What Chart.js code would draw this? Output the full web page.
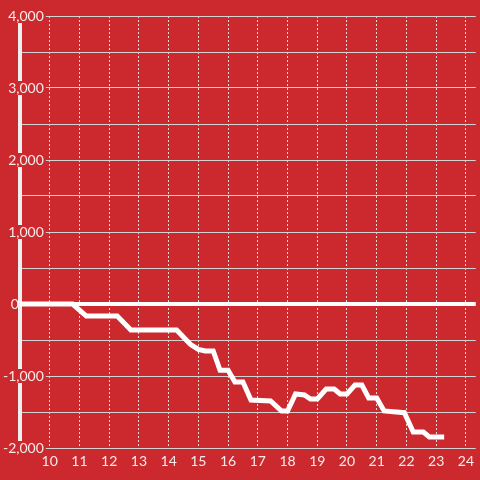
<!DOCTYPE html>
<html>
<head>
<meta charset="utf-8">
<script src="https://cdn.jsdelivr.net/npm/chart.js@4/dist/chart.umd.min.js"></script>
<style>
  html, body { margin: 0; padding: 0; background: #cc292e; }
  #wrap { width: 480px; height: 480px; }
</style>
</head>
<body>
<div id="wrap"><canvas id="chart"></canvas></div>
<script>
// Running balance through the day (hour of day → value)
const hours = [9, 10.77, 11.23, 12.27, 12.73, 14.27, 14.73, 15.0, 15.23, 15.5, 15.73, 16.0,
  16.23, 16.5, 16.77, 17.43, 17.8, 18.0, 18.27, 18.57, 18.77, 19.0, 19.3, 19.57,
  19.77, 20.0, 20.27, 20.5, 20.73, 21.0, 21.25, 21.93, 22.23, 22.57, 22.77, 23.27];
const balance = [0, 0, -167, -167, -361, -361, -560, -630, -653, -653, -920, -920,
  -1083, -1083, -1333, -1347, -1486, -1486, -1250, -1264, -1319, -1319, -1181, -1181,
  -1250, -1250, -1125, -1125, -1306, -1306, -1486, -1510, -1778, -1778, -1847, -1847];

const xMin = 9, xMax = 24.333;
const yMin = -2000, yMax = 4000;

const BG = "#cc292e";
const LABEL = "rgba(255,255,255,0.9)";
const FONT = { family: "Lato, 'Open Sans', sans-serif", size: 14, lineHeight: 1 };

const points = hours.map((h, i) => ({ x: h, y: balance[i] }));

new Chart(document.getElementById("chart"), {
  type: "line",
  data: {
    datasets: [{
      data: points,
      borderColor: "#ffffff",
      borderWidth: 5,
      pointRadius: 0,
      tension: 0,
      fill: false,
    }]
  },
  options: {
    responsive: true,
    maintainAspectRatio: false,
    animation: false,
    layout: { padding: { left: 20, right: 0, top: 16, bottom: 6 } },
    plugins: { legend: { display: false }, tooltip: { enabled: false } },
    scales: {
      x: {
        type: "linear",
        min: xMin, max: xMax,
        grid: { color: "#dcdcdc", lineWidth: 1, drawTicks: false },
        border: { display: false, dash: [2, 2] },
        ticks: {
          stepSize: 1, includeBounds: false, autoSkip: false, maxRotation: 0,
          padding: 6, color: LABEL, font: FONT,
          callback: v => (v < 10 ? "" : String(v)),
        },
      },
      y: {
        min: yMin, max: yMax,
        afterFit(scale) { scale.width = 0; },
        grid: {
          color: c => (c.tick.value === 0 ? "#ffffff" : "#d2d2d2"),
          lineWidth: c => (c.tick.value === 0 ? 4 : 1),
          drawTicks: false,
        },
        border: { display: true, color: "#efefef", width: 4 },
        ticks: {
          stepSize: 500, mirror: true, crossAlign: "far", padding: -17,
          color: LABEL, font: FONT,
          callback: v => {
            if (v % 1000 !== 0) return "";
            if (v === 0) return "0\u00a0\u00a0\u00a0\u00a0\u00a0\u00a0\u00a0";
            return v.toLocaleString("en-US");
          },
          showLabelBackdrop: c => c.tick.value % 1000 === 0 && c.tick.value !== 0,
          backdropColor: BG,
          backdropPadding: { left: 2, right: 2, top: 0, bottom: 0 },
        },
      },
    },
  },
});
</script>
</body>
</html>
